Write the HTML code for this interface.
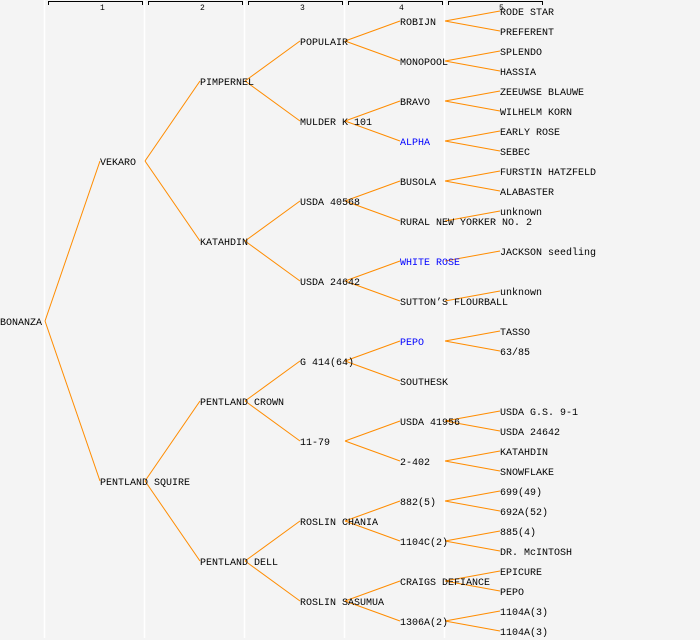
<!DOCTYPE html>
<html><head><meta charset="utf-8"><style>
html,body{margin:0;padding:0;background:#f4f4f4;}
svg{display:block;}
text{font-family:"Liberation Mono",monospace;font-size:10px;fill:#000;}
.b{fill:#0000ff;}
.h{font-size:8px;}
line.o{stroke:#ff8c00;stroke-width:1;}
</style></head><body>
<svg width="700" height="640" viewBox="0 0 700 640" xmlns="http://www.w3.org/2000/svg">
<rect width="700" height="640" fill="#f4f4f4"/>
<g stroke="#ffffff" stroke-width="1.5">
<line x1="44.5" y1="0" x2="44.5" y2="638"/><line x1="144.5" y1="0" x2="144.5" y2="638"/>
<line x1="244.5" y1="0" x2="244.5" y2="638"/><line x1="344.5" y1="0" x2="344.5" y2="638"/>
<line x1="444.5" y1="0" x2="444.5" y2="638"/>
</g>
<g stroke="#000" stroke-width="1" fill="none">
<path d="M48.5 5V1.5H142.5V5"/><path d="M148.5 5V1.5H242.5V5"/><path d="M248.5 5V1.5H342.5V5"/>
<path d="M348.5 5V1.5H442.5V5"/><path d="M448.5 5V1.5H542.5V5"/>
</g>
<text class="h" x="100" y="10">1</text><text class="h" x="200" y="10">2</text><text class="h" x="300" y="10">3</text><text class="h" x="399" y="10">4</text><text class="h" x="499" y="10">5</text>
<g>
<line class="o" x1="45" y1="321" x2="100" y2="161"/><line class="o" x1="45" y1="321" x2="100" y2="481"/>
<line class="o" x1="145" y1="161" x2="200" y2="81"/><line class="o" x1="145" y1="161" x2="200" y2="241"/>
<line class="o" x1="145" y1="481" x2="200" y2="401"/><line class="o" x1="145" y1="481" x2="200" y2="561"/>
<line class="o" x1="245" y1="81" x2="300" y2="41"/><line class="o" x1="245" y1="81" x2="300" y2="121"/>
<line class="o" x1="245" y1="241" x2="300" y2="201"/><line class="o" x1="245" y1="241" x2="300" y2="281"/>
<line class="o" x1="245" y1="401" x2="300" y2="361"/><line class="o" x1="245" y1="401" x2="300" y2="441"/>
<line class="o" x1="245" y1="561" x2="300" y2="521"/><line class="o" x1="245" y1="561" x2="300" y2="601"/>
<line class="o" x1="345" y1="41" x2="400" y2="21"/><line class="o" x1="345" y1="41" x2="400" y2="61"/>
<line class="o" x1="345" y1="121" x2="400" y2="101"/><line class="o" x1="345" y1="121" x2="400" y2="141"/>
<line class="o" x1="345" y1="201" x2="400" y2="181"/><line class="o" x1="345" y1="201" x2="400" y2="221"/>
<line class="o" x1="345" y1="281" x2="400" y2="261"/><line class="o" x1="345" y1="281" x2="400" y2="301"/>
<line class="o" x1="345" y1="361" x2="400" y2="341"/><line class="o" x1="345" y1="361" x2="400" y2="381"/>
<line class="o" x1="345" y1="441" x2="400" y2="421"/><line class="o" x1="345" y1="441" x2="400" y2="461"/>
<line class="o" x1="345" y1="521" x2="400" y2="501"/><line class="o" x1="345" y1="521" x2="400" y2="541"/>
<line class="o" x1="345" y1="601" x2="400" y2="581"/><line class="o" x1="345" y1="601" x2="400" y2="621"/>
<line class="o" x1="445" y1="21" x2="500" y2="11"/><line class="o" x1="445" y1="21" x2="500" y2="31"/>
<line class="o" x1="445" y1="61" x2="500" y2="51"/><line class="o" x1="445" y1="61" x2="500" y2="71"/>
<line class="o" x1="445" y1="101" x2="500" y2="91"/><line class="o" x1="445" y1="101" x2="500" y2="111"/>
<line class="o" x1="445" y1="141" x2="500" y2="131"/><line class="o" x1="445" y1="141" x2="500" y2="151"/>
<line class="o" x1="445" y1="181" x2="500" y2="171"/><line class="o" x1="445" y1="181" x2="500" y2="191"/>
<line class="o" x1="445" y1="221" x2="500" y2="211"/>
<line class="o" x1="445" y1="261" x2="500" y2="251"/>
<line class="o" x1="445" y1="301" x2="500" y2="291"/>
<line class="o" x1="445" y1="341" x2="500" y2="331"/><line class="o" x1="445" y1="341" x2="500" y2="351"/>
<line class="o" x1="445" y1="421" x2="500" y2="411"/><line class="o" x1="445" y1="421" x2="500" y2="431"/>
<line class="o" x1="445" y1="461" x2="500" y2="451"/><line class="o" x1="445" y1="461" x2="500" y2="471"/>
<line class="o" x1="445" y1="501" x2="500" y2="491"/><line class="o" x1="445" y1="501" x2="500" y2="511"/>
<line class="o" x1="445" y1="541" x2="500" y2="531"/><line class="o" x1="445" y1="541" x2="500" y2="551"/>
<line class="o" x1="445" y1="581" x2="500" y2="571"/><line class="o" x1="445" y1="581" x2="500" y2="591"/>
<line class="o" x1="445" y1="621" x2="500" y2="611"/><line class="o" x1="445" y1="621" x2="500" y2="631"/>
</g>
<g transform="translate(0,-1)">
<text x="0" y="326">BONANZA</text>
<text x="100" y="166">VEKARO</text><text x="100" y="486">PENTLAND SQUIRE</text>
<text x="200" y="86">PIMPERNEL</text><text x="200" y="246">KATAHDIN</text><text x="200" y="406">PENTLAND CROWN</text><text x="200" y="566">PENTLAND DELL</text>
<text x="300" y="46">POPULAIR</text><text x="300" y="126">MULDER K 101</text><text x="300" y="206">USDA 40568</text><text x="300" y="286">USDA 24642</text>
<text x="300" y="366">G 414(64)</text><text x="300" y="446">11-79</text><text x="300" y="526">ROSLIN CHANIA</text><text x="300" y="606">ROSLIN SASUMUA</text>
<text x="400" y="26">ROBIJN</text><text x="400" y="66">MONOPOOL</text><text x="400" y="106">BRAVO</text><text class="b" x="400" y="146">ALPHA</text>
<text x="400" y="186">BUSOLA</text><text x="400" y="226">RURAL NEW YORKER NO. 2</text><text class="b" x="400" y="266">WHITE ROSE</text><text x="400" y="306">SUTTON’S FLOURBALL</text>
<text class="b" x="400" y="346">PEPO</text><text x="400" y="386">SOUTHESK</text><text x="400" y="426">USDA 41956</text><text x="400" y="466">2-402</text>
<text x="400" y="506">882(5)</text><text x="400" y="546">1104C(2)</text><text x="400" y="586">CRAIGS DEFIANCE</text><text x="400" y="626">1306A(2)</text>
<text x="500" y="16">RODE STAR</text><text x="500" y="36">PREFERENT</text><text x="500" y="56">SPLENDO</text><text x="500" y="76">HASSIA</text>
<text x="500" y="96">ZEEUWSE BLAUWE</text><text x="500" y="116">WILHELM KORN</text><text x="500" y="136">EARLY ROSE</text><text x="500" y="156">SEBEC</text>
<text x="500" y="176">FURSTIN HATZFELD</text><text x="500" y="196">ALABASTER</text><text x="500" y="216">unknown</text>
<text x="500" y="256">JACKSON seedling</text><text x="500" y="296">unknown</text>
<text x="500" y="336">TASSO</text><text x="500" y="356">63/85</text>
<text x="500" y="416">USDA G.S. 9-1</text><text x="500" y="436">USDA 24642</text><text x="500" y="456">KATAHDIN</text><text x="500" y="476">SNOWFLAKE</text>
<text x="500" y="496">699(49)</text><text x="500" y="516">692A(52)</text><text x="500" y="536">885(4)</text><text x="500" y="556">DR. McINTOSH</text>
<text x="500" y="576">EPICURE</text><text x="500" y="596">PEPO</text><text x="500" y="616">1104A(3)</text><text x="500" y="636">1104A(3)</text>
</g>
</svg>
</body></html>
